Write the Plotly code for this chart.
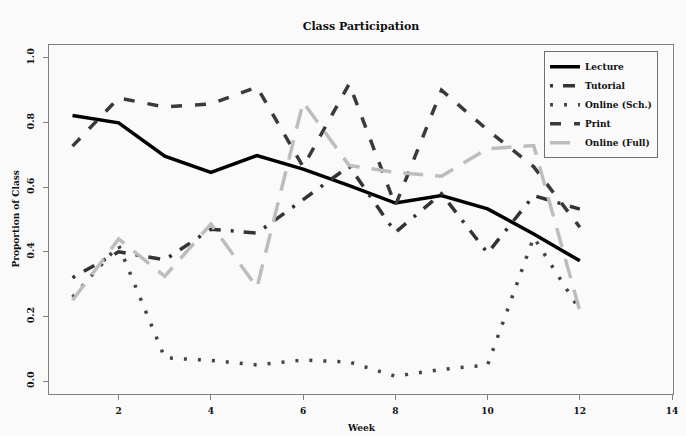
import plotly.graph_objects as go

weeks = [1, 2, 3, 4, 5, 6, 7, 8, 9, 10, 11, 12]
lecture = [0.822, 0.799, 0.696, 0.646, 0.698, 0.656, 0.605, 0.551, 0.574, 0.533, 0.455, 0.372]
tutorial = [0.320, 0.400, 0.375, 0.470, 0.458, 0.560, 0.665, 0.460, 0.580, 0.396, 0.574, 0.532]
online_sch = [0.260, 0.420, 0.072, 0.064, 0.050, 0.065, 0.059, 0.015, 0.036, 0.050, 0.445, 0.220]
print_ = [0.727, 0.876, 0.848, 0.858, 0.910, 0.663, 0.920, 0.543, 0.900, 0.777, 0.663, 0.476]
online_full = [0.250, 0.440, 0.324, 0.486, 0.290, 0.863, 0.667, 0.646, 0.634, 0.719, 0.729, 0.217]

x_ticks = [2, 4, 6, 8, 10, 12, 14]
y_ticks = [0.0, 0.2, 0.4, 0.6, 0.8, 1.0]

FONT = "DejaVu Serif"
BG = "#fafafa"
AX = "#808080"

series = [
    ("Lecture", lecture, "#000000", "solid", 3.5),
    ("Tutorial", tutorial, "#333333", "3px,10px,12px,10px", 3.5),
    ("Online (Sch.)", online_sch, "#444444", "3px,11px", 3.5),
    ("Print", print_, "#3a3a3a", "11px,13px", 3.5),
    ("Online (Full)", online_full, "#bdbdbd", "20px,12px", 3.5),
]

fig = go.Figure()
for name, vals, col, dash, w in series:
    fig.add_trace(go.Scatter(
        x=weeks, y=vals, name=f"<b>{name}</b>", mode="lines",
        line=dict(color=col, dash=dash, width=w),
    ))

fig.update_layout(
    width=686, height=436,
    margin=dict(l=49, r=8, t=45, b=42),
    paper_bgcolor=BG, plot_bgcolor=BG,
    font=dict(family=FONT, size=9, color="#111111"),
    title=dict(text="<b>Class Participation</b>", x=0.5, xref="paper",
               y=1 - 26 / 436, yref="container", xanchor="center", yanchor="middle",
               font=dict(family=FONT, size=11, color="#111111")),
    showlegend=True,
    legend=dict(x=(548 - 49) / 629, y=(394.3 - 51.3) / 349.3, xanchor="left", yanchor="top",
                bgcolor=BG, bordercolor="#707070", borderwidth=1,
                font=dict(family=FONT, size=9, color="#111111")),
    xaxis=dict(range=[0.49, 14.02], tickmode="array", tickvals=x_ticks,
               ticktext=[f"<b>{t}</b>" for t in x_ticks],
               showgrid=False, zeroline=False, showline=True, mirror=True,
               linecolor=AX, linewidth=1, ticks="outside", ticklen=5, tickcolor=AX,
               ticklabelstandoff=3,
               tickfont=dict(family=FONT, size=9, color="#111111")),
    yaxis=dict(range=[-0.04, 1.04], tickmode="array", tickvals=y_ticks,
               ticktext=[f"<b>{t:.1f}</b>" for t in y_ticks], tickangle=-90,
               showgrid=False, zeroline=False, showline=True, mirror=True,
               linecolor=AX, linewidth=1, ticks="outside", ticklen=5, tickcolor=AX,
               ticklabelstandoff=5,
               tickfont=dict(family=FONT, size=9.5, color="#111111")),
    annotations=[
        dict(text="<b>Week</b>", xref="paper", yref="paper", x=0.5, y=0,
             xanchor="center", yanchor="middle", yshift=-34, showarrow=False,
             font=dict(family=FONT, size=9, color="#111111")),
        dict(text="<b>Proportion of Class</b>", xref="paper", yref="paper", x=0, y=0.5,
             xanchor="center", yanchor="middle", xshift=-34, textangle=-90, showarrow=False,
             font=dict(family=FONT, size=9, color="#111111")),
    ],
)

fig.write_html("out.html", config={"displayModeBar": False},
               post_script="document.body.style.margin='0';document.body.style.padding='0';document.body.style.overflow='hidden';")
